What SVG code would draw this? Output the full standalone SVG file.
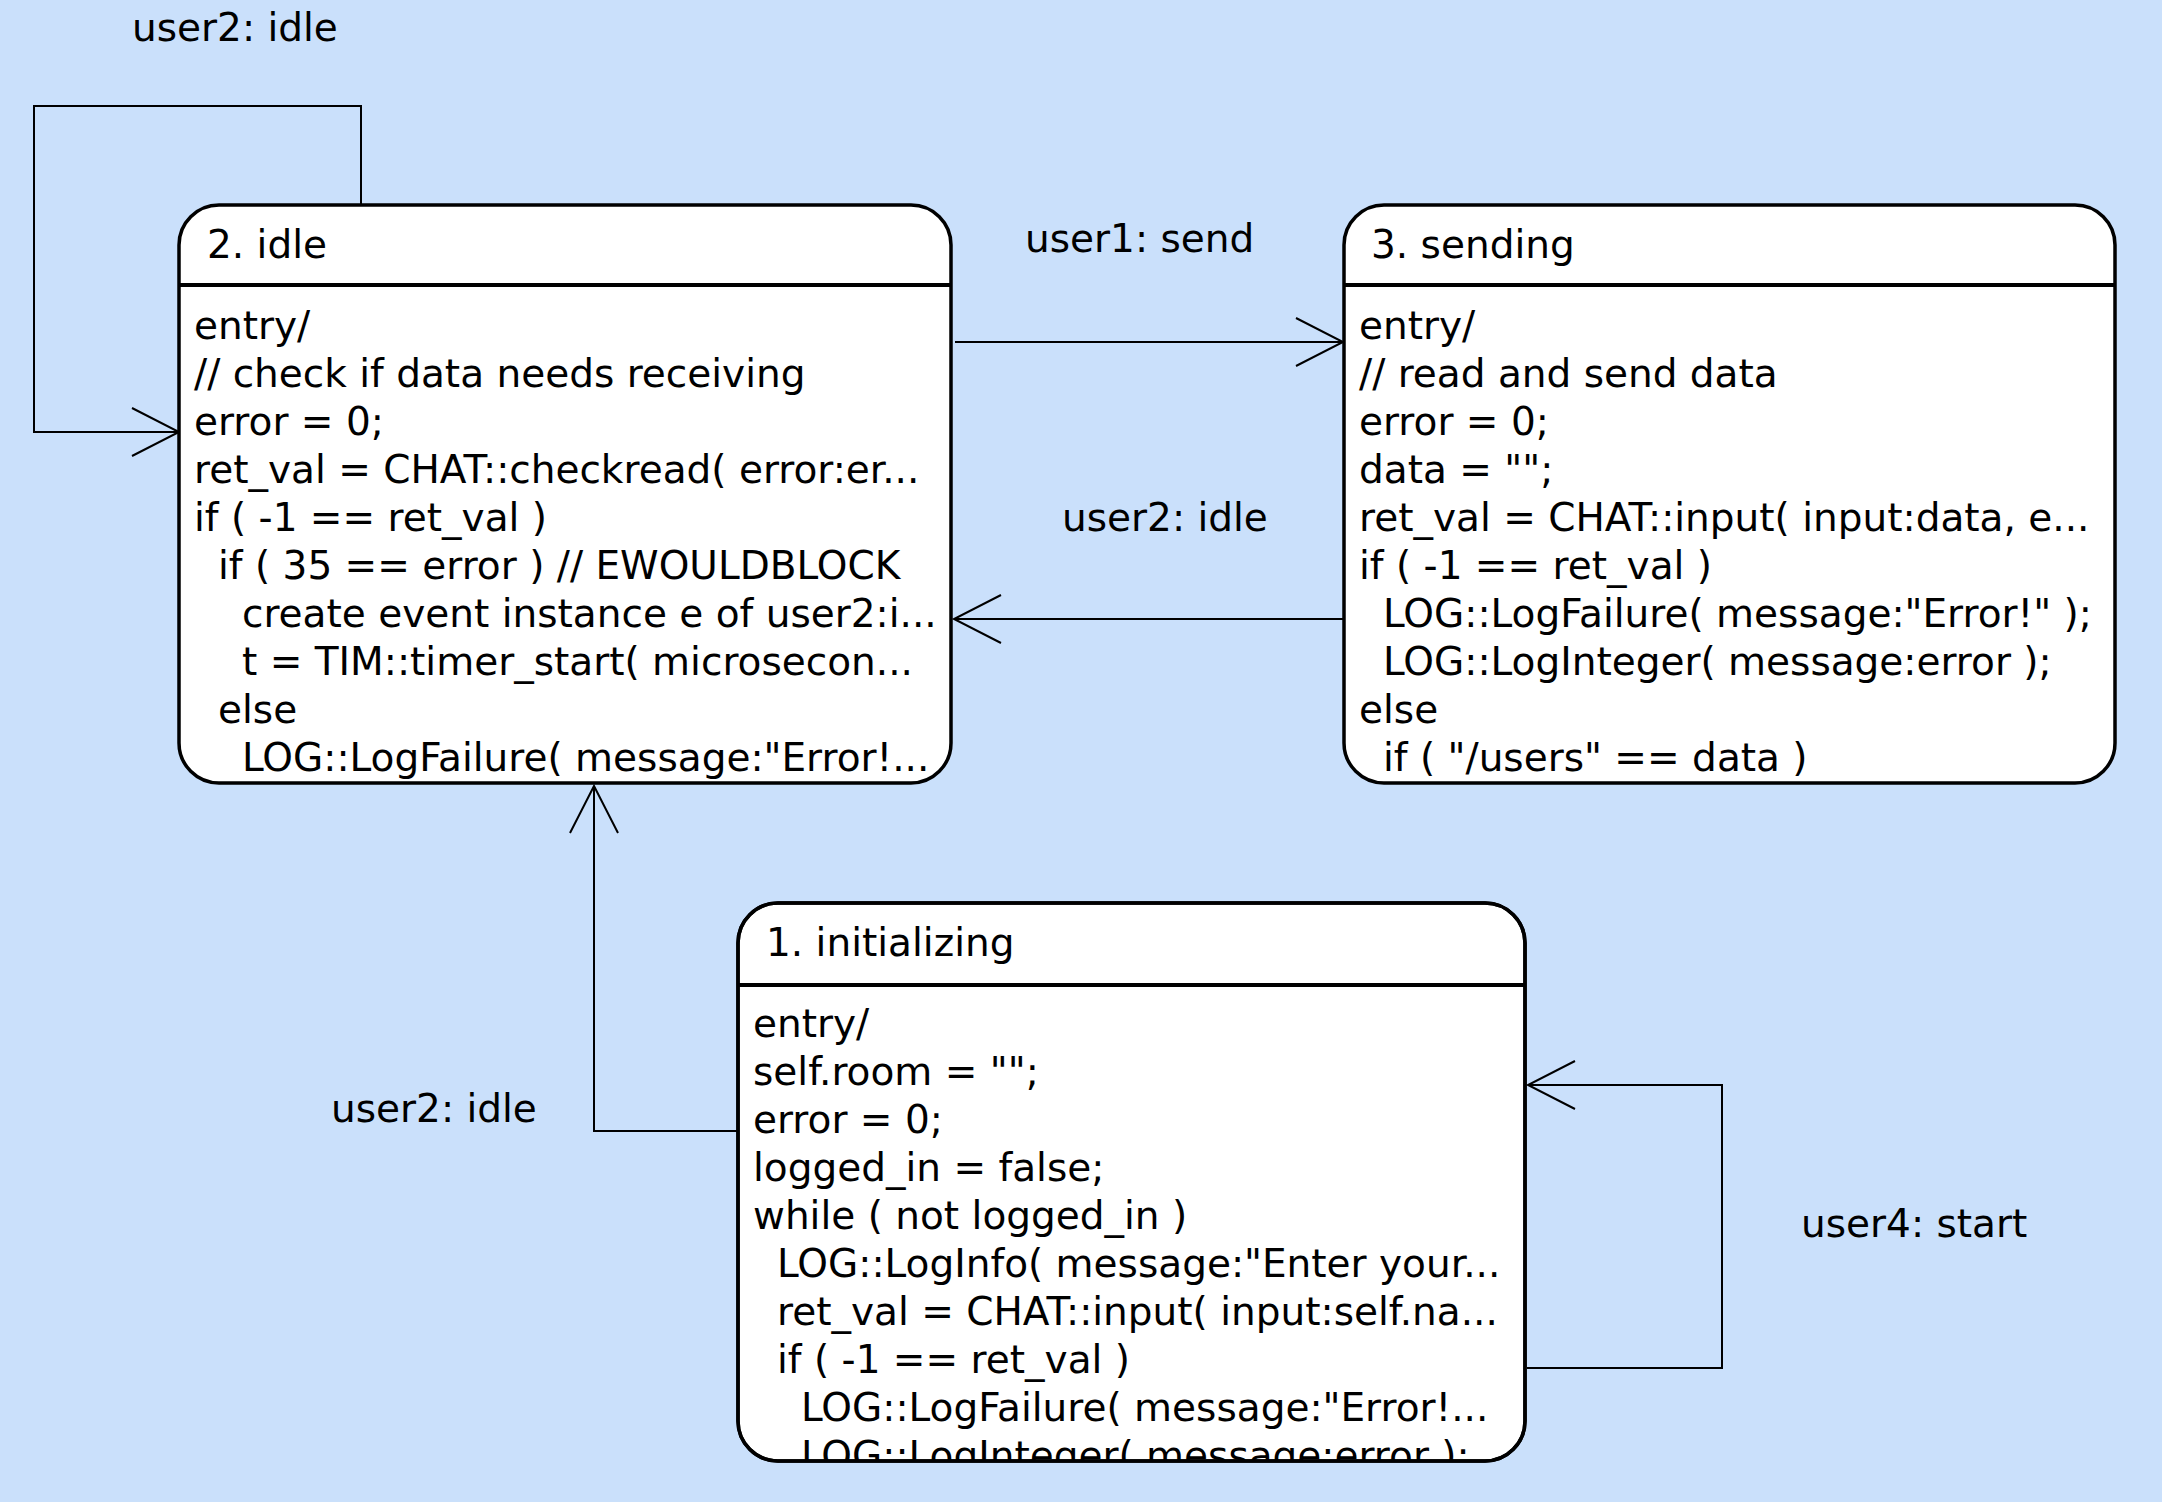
<svg xmlns="http://www.w3.org/2000/svg" width="2162" height="1502" viewBox="0 0 2162 1502">
<style>
text { font-family: "DejaVu Sans", "Liberation Sans", sans-serif; font-size: 39px; fill: #000; }
.box { fill: #fff; stroke: #000; stroke-width: 3.5; }
.sep { stroke: #000; stroke-width: 4; }
.conn { fill: none; stroke: #000; stroke-width: 2; marker-end: url(#arrow); }
</style>
<defs>
<marker id="arrow" markerUnits="userSpaceOnUse" markerWidth="50" markerHeight="50" refX="47" refY="24" orient="auto" overflow="visible">
<path d="M0,0 L47,24 L0,48" fill="none" stroke="#000" stroke-width="2"/>
</marker>
<clipPath id="clip1"><rect x="738" y="903" width="787" height="557" rx="40" ry="40"/></clipPath>
</defs>
<rect width="2162" height="1502" fill="#cae0fb"/>

<g id="connectors">
<path class="conn" d="M361,205 V106 H34 V432 H179"/>
<path class="conn" d="M955,342 H1343"/>
<path class="conn" d="M1343,619 H954"/>
<path class="conn" d="M738,1131 H594 V786"/>
<path class="conn" d="M1527,1368 H1722 V1085 H1528"/>
<text x="132" y="41">user2: idle</text>
<text x="1025" y="252">user1: send</text>
<text x="1062" y="531">user2: idle</text>
<text x="331" y="1122">user2: idle</text>
<text x="1801" y="1237">user4: start</text>
</g>

<g id="node-idle">
<rect class="box" x="179" y="205" width="772" height="578" rx="40" ry="40"/>
<line class="sep" x1="179" y1="285" x2="951" y2="285"/>
<text x="207" y="258">2. idle</text>
<text x="194" y="339">entry/</text>
<text x="194" y="387">// check if data needs receiving</text>
<text x="194" y="435">error = 0;</text>
<text x="194" y="483">ret_val = CHAT::checkread( error:er...</text>
<text x="194" y="531">if ( -1 == ret_val )</text>
<text x="218" y="579">if ( 35 == error ) // EWOULDBLOCK</text>
<text x="242" y="627">create event instance e of user2:i...</text>
<text x="242" y="675">t = TIM::timer_start( microsecon...</text>
<text x="218" y="723">else</text>
<text x="242" y="771">LOG::LogFailure( message:"Error!...</text>
</g>

<g id="node-sending">
<rect class="box" x="1344" y="205" width="771" height="578" rx="40" ry="40"/>
<line class="sep" x1="1344" y1="285" x2="2115" y2="285"/>
<text x="1371" y="258">3. sending</text>
<text x="1359" y="339">entry/</text>
<text x="1359" y="387">// read and send data</text>
<text x="1359" y="435">error = 0;</text>
<text x="1359" y="483">data = "";</text>
<text x="1359" y="531">ret_val = CHAT::input( input:data, e...</text>
<text x="1359" y="579">if ( -1 == ret_val )</text>
<text x="1383" y="627">LOG::LogFailure( message:"Error!" );</text>
<text x="1383" y="675">LOG::LogInteger( message:error );</text>
<text x="1359" y="723">else</text>
<text x="1383" y="771">if ( "/users" == data )</text>
</g>

<g id="node-initializing">
<rect class="box" x="738" y="903" width="787" height="558" rx="40" ry="40"/>
<line class="sep" x1="738" y1="985" x2="1525" y2="985"/>
<text x="766" y="956">1. initializing</text>
<g clip-path="url(#clip1)">
<text x="753" y="1037">entry/</text>
<text x="753" y="1085">self.room = "";</text>
<text x="753" y="1133">error = 0;</text>
<text x="753" y="1181">logged_in = false;</text>
<text x="753" y="1229">while ( not logged_in )</text>
<text x="777" y="1277">LOG::LogInfo( message:"Enter your...</text>
<text x="777" y="1325">ret_val = CHAT::input( input:self.na...</text>
<text x="777" y="1373">if ( -1 == ret_val )</text>
<text x="801" y="1421">LOG::LogFailure( message:"Error!...</text>
<text x="801" y="1469">LOG::LogInteger( message:error );</text>
</g>
<rect x="738" y="903" width="787" height="558" rx="40" ry="40" fill="none" stroke="#000" stroke-width="3.5"/>
</g>
</svg>
